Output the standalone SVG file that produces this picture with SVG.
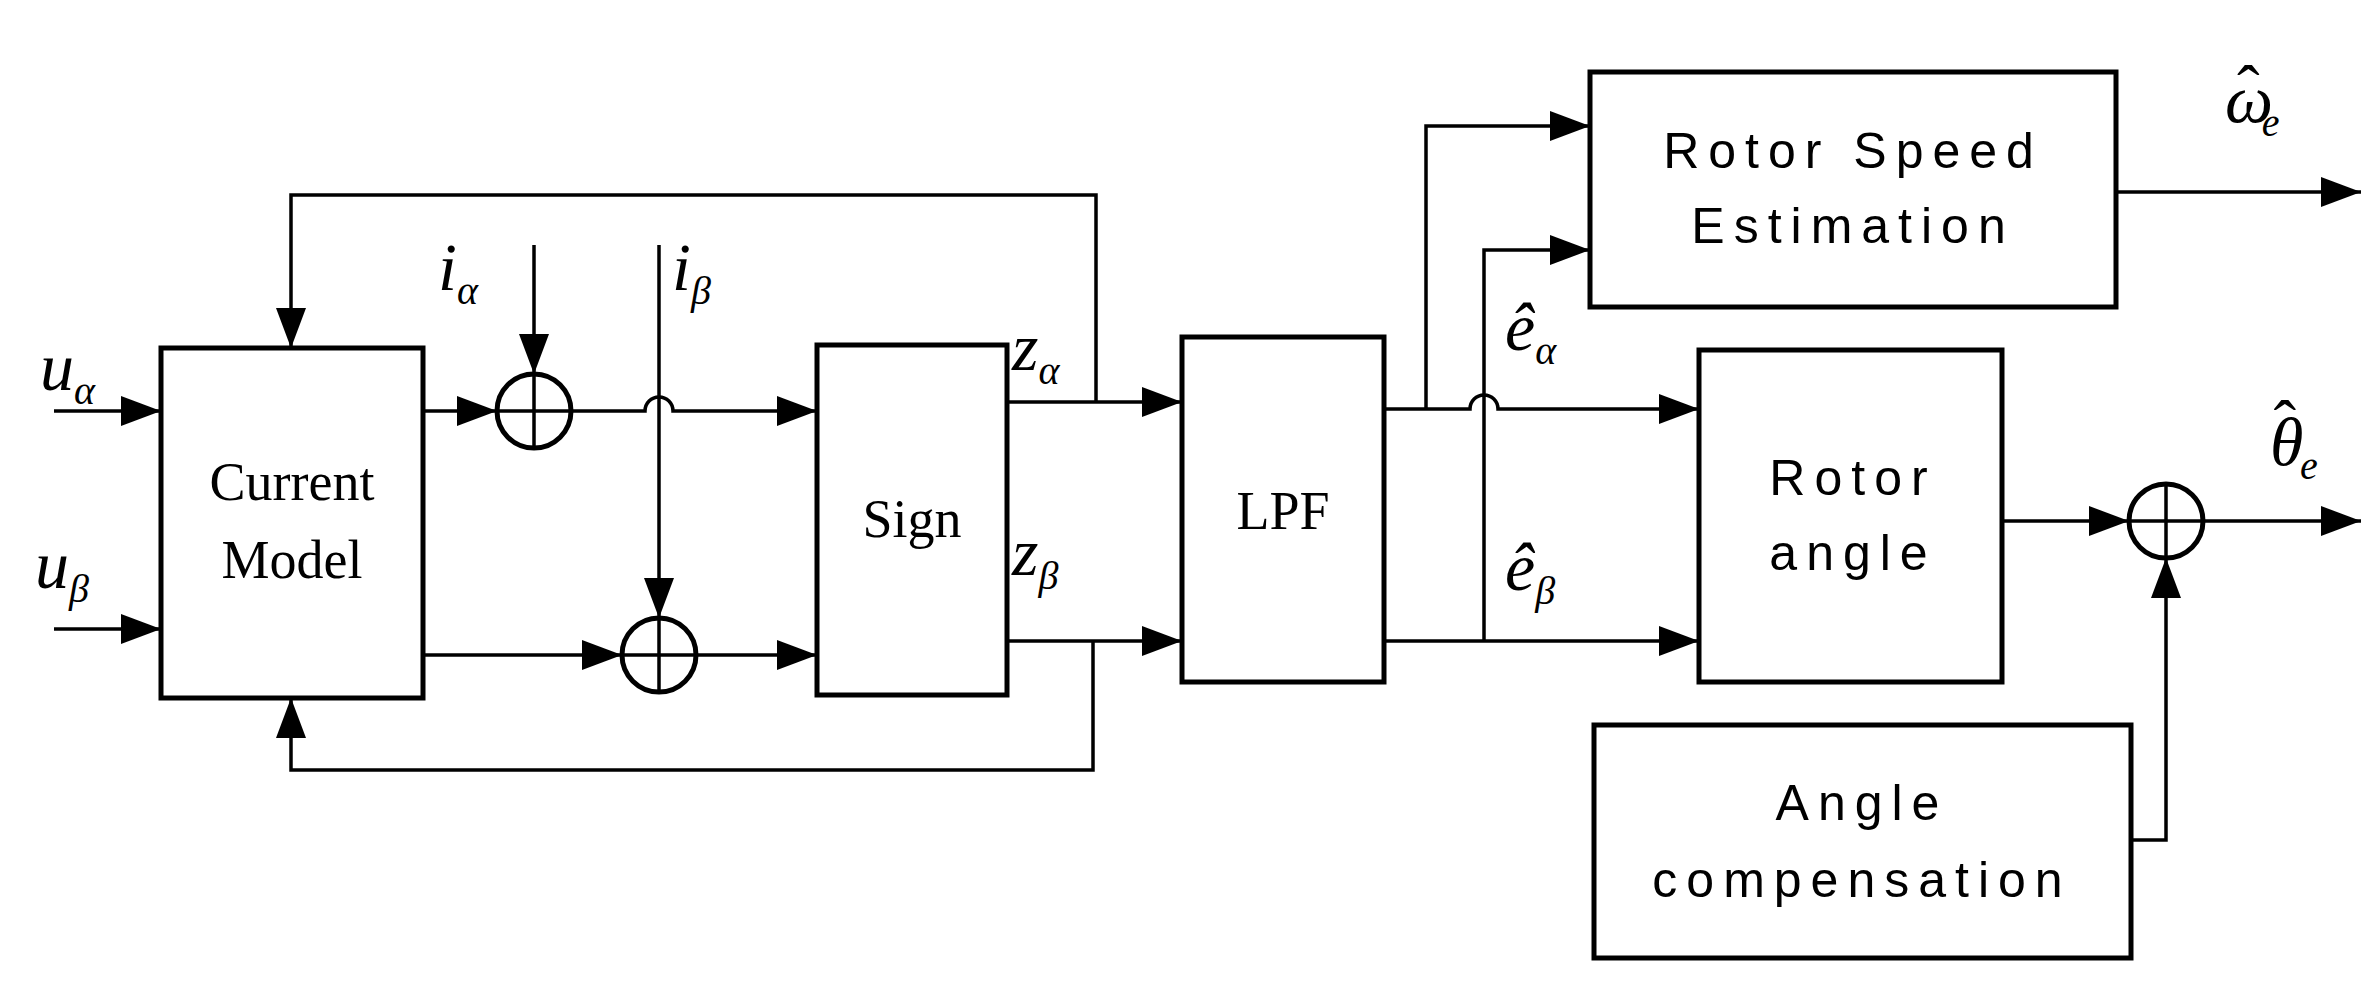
<svg xmlns="http://www.w3.org/2000/svg" width="2380" height="981" viewBox="0 0 2380 981">
<style>
.b{fill:#fff;stroke:#000;stroke-width:5}
.l{fill:none;stroke:#000;stroke-width:3.5}
.t{font-family:"Liberation Serif",serif;font-size:54px;text-anchor:middle}
.s{font-family:"Liberation Sans",sans-serif;font-size:50px;text-anchor:middle;letter-spacing:9px}
.m{font-family:"Liberation Serif",serif;font-style:italic;font-size:68px}
.sub{font-size:40px}
</style>
<defs><marker id="A" viewBox="0 0 10 10" refX="10" refY="5" markerWidth="40" markerHeight="30" markerUnits="userSpaceOnUse" orient="auto" preserveAspectRatio="none"><path d="M0,0L10,5L0,10z"/></marker></defs>
<g id="connectors" class="l">
<path d="M54,411H161" marker-end="url(#A)"/>
<path d="M54,629H161" marker-end="url(#A)"/>
<path d="M423,411H497" marker-end="url(#A)"/>
<path d="M571,411H645a14,14 0 0 1 28,0H817" marker-end="url(#A)"/>
<path d="M534,245V374" marker-end="url(#A)"/>
<path d="M659,245V618" marker-end="url(#A)"/>
<path d="M423,655H622" marker-end="url(#A)"/>
<path d="M696,655H817" marker-end="url(#A)"/>
<path d="M1007,402H1182" marker-end="url(#A)"/>
<path d="M1096,402V195H291V348" marker-end="url(#A)"/>
<path d="M1007,641H1182" marker-end="url(#A)"/>
<path d="M1093,641V770H291V698" marker-end="url(#A)"/>
<path d="M1384,409H1470a14,14 0 0 1 28,0H1699" marker-end="url(#A)"/>
<path d="M1426,409V126H1590" marker-end="url(#A)"/>
<path d="M1384,641H1699" marker-end="url(#A)"/>
<path d="M1484,641V250H1590" marker-end="url(#A)"/>
<path d="M2116,192H2361" marker-end="url(#A)"/>
<path d="M2003,521H2129" marker-end="url(#A)"/>
<path d="M2203,521H2361" marker-end="url(#A)"/>
<path d="M2131,840H2166V558" marker-end="url(#A)"/>
</g>
<g id="current"><rect class="b" x="161" y="348" width="262" height="350"/><text class="t" x="292" y="500">Current</text><text class="t" x="292" y="578">Model</text></g>
<g id="sum1"><circle class="b" cx="534" cy="411" r="37"/><path class="l" d="M497,411H571M534,374V448"/></g>
<g id="sum2"><circle class="b" cx="659" cy="655" r="37"/><path class="l" d="M622,655H696M659,618V692"/></g>
<g id="sign"><rect class="b" x="817" y="345" width="190" height="350"/><text class="t" x="912" y="537">Sign</text></g>
<g id="lpf"><rect class="b" x="1182" y="337" width="202" height="345"/><text class="t" x="1283" y="529">LPF</text></g>
<g id="speed"><rect class="b" x="1590" y="72" width="526" height="235"/><text class="s" x="1853" y="168">Rotor Speed</text><text class="s" x="1853" y="243">Estimation</text></g>
<g id="angle"><rect class="b" x="1699" y="350" width="303" height="332"/><text class="s" x="1853" y="495">Rotor</text><text class="s" x="1853" y="570">angle</text></g>
<g id="comp"><rect class="b" x="1594" y="725" width="537" height="233"/><text class="s" x="1862" y="820">Angle</text><text class="s" x="1862" y="897">compensation</text></g>
<g id="sum3"><circle class="b" cx="2166" cy="521" r="37"/><path class="l" d="M2129,521H2203M2166,484V558"/></g>
<g id="labels" class="m">
<text x="40" y="390">u<tspan class="sub" dy="14">α</tspan></text>
<text x="35" y="588">u<tspan class="sub" dy="14">β</tspan></text>
<text x="438" y="290">i<tspan class="sub" dy="14">α</tspan></text>
<text x="672" y="290">i<tspan class="sub" dy="14">β</tspan></text>
<text x="1012" y="370">z<tspan class="sub" dy="14">α</tspan></text>
<text x="1012" y="575">z<tspan class="sub" dy="14">β</tspan></text>
<text x="1505" y="350">e&#770;<tspan class="sub" dy="14">α</tspan></text>
<text x="1505" y="590">e&#770;<tspan class="sub" dy="14">β</tspan></text>
<text x="2225" y="122">ω<tspan font-style="normal" dx="-36" dy="-10">ˆ</tspan><tspan class="sub" dx="2" dy="24">e</tspan></text>
<text x="2270" y="465">θ<tspan font-style="normal" dx="-30" dy="-18">ˆ</tspan><tspan class="sub" dx="4" dy="32">e</tspan></text>
</g>
</svg>
